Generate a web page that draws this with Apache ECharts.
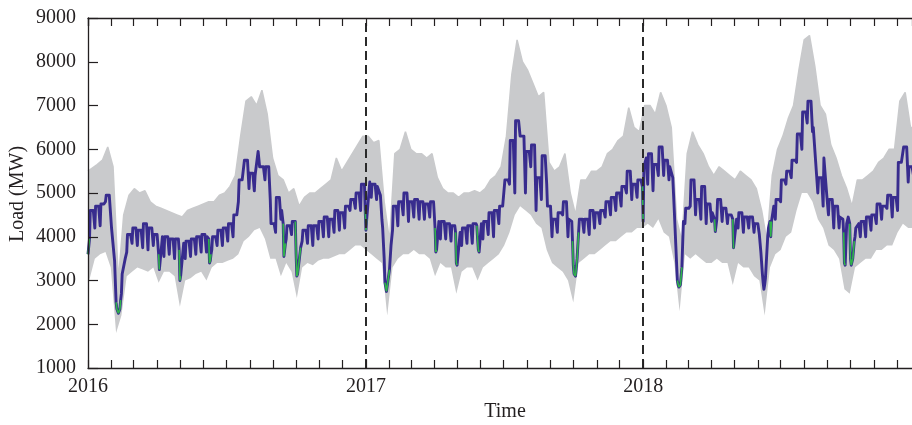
<!DOCTYPE html>
<html>
<head>
<meta charset="utf-8">
<script src="https://cdn.jsdelivr.net/npm/echarts@6/dist/echarts.min.js"></script>
<style>
html,body{margin:0;padding:0;background:#fff;}
#chart{width:912px;height:425px;}
</style>
</head>
<body>
<div id="chart"></div>
<script>
// ---- Data ----
// Weekly values, week w starts on Sunday 2016-01-03 + 7w.
// Blue line (daily average load): weekend dip (Sunday) and weekday level (Mon/Fri)
const weekLo = [
3950,4200,4250,4800,4450,2500,2700,3650,3850,3800,3750,3700,3800,3600,3550,3600,3500,3000,3500,3550,
3600,3650,3650,3700,3800,3800,3900,4000,4800,5300,5100,5050,5600,5300,4850,4100,4400,3950,4050,3100,
3900,3850,3800,3950,4000,4000,4100,4150,4200,4600,4650,4600,
4150,4900,4850,4400,2750,4150,4250,4500,4350,4450,4400,4400,4450,4200,3950,3950,3900,3400,3800,3850,
3850,3950,3950,4050,4000,4300,4700,5200,5000,6300,5000,5600,4600,4850,5200,4000,4100,4500,4000,3350,
4100,4100,4050,4200,4300,4450,4500,4600,4700,5000,4850,4900,
5150,5200,5050,5400,5400,5300,4600,2850,4300,4700,4500,4400,4300,4350,4400,4350,4300,4400,4200,4100,
4200,4100,4050,2900,4350,4400,4800,5200,5350,5700,6000,6600,6400,5000,4700,4500,4200,4200,3400,4300,
4000,4000,4000,4150,4300,4400,4650,4450,4600,5700,5250,5400];
const weekHi = [
4600,4700,4750,4950,4200,2350,3500,4050,4200,4150,4300,4200,4050,4000,4000,3950,3950,3850,3900,3950,
4000,4050,4000,4000,4150,4200,4300,4500,5300,5750,5450,5400,5600,5600,4300,4900,4600,4250,4350,3750,
4150,4250,4250,4350,4450,4400,4600,4550,4700,4850,5000,5200,
5250,5200,5150,2850,3000,4700,4800,5000,4800,4850,4800,4750,4800,4350,4350,4300,4250,4100,4200,4250,
4300,4300,4350,4550,4600,4700,5300,6200,6650,6300,5950,6100,5350,5850,4700,4400,4550,4800,4400,3300,
4400,4400,4600,4550,4600,4800,4900,5000,5150,5500,5200,5300,
5800,5900,5650,6050,5750,5600,4200,4350,4650,5300,4850,5150,4750,4550,4850,4650,4500,4400,4550,4450,
4450,4300,3850,4200,4700,4850,5300,5500,5750,6350,6850,7100,6500,5350,5800,4850,4700,4450,4450,3700,
4300,4350,4450,4500,4750,4700,4950,4900,5700,6050,5600,5550];
// Grey band (hourly load range): weekly upper and lower edge
const grayTop = [
5500,5650,5750,6050,5600,3000,4500,4950,5100,5000,5050,4800,4700,4650,4600,4550,4500,4450,4600,4650,
4700,4750,4800,4800,4950,5000,5150,5400,6300,7100,7200,7000,7350,6800,5800,5400,5300,5000,5100,4700,
4900,5000,5000,5100,5200,5300,5800,5500,5700,5900,6100,6300,
6300,6150,6200,4800,3900,5900,6000,6400,6000,5900,5900,5800,5900,5350,5100,5000,5000,4900,5000,5000,
5050,5000,5100,5300,5400,5600,6300,7700,8500,8000,7800,7500,7200,7300,5700,5500,5600,5900,5000,4500,
5300,5300,5500,5500,5600,5900,6000,6200,6300,6950,6500,6400,
7000,7000,6800,7300,7000,6500,4400,3900,5900,6400,6100,5900,5600,5400,5600,5500,5400,5300,5500,5400,
5300,5100,4600,3900,5400,6000,6300,6700,7000,7800,8500,8600,7900,7000,6800,6100,5800,5400,5100,4700,
5300,5300,5400,5500,5700,5800,6000,6000,7100,7300,6500,6500];
const grayBot = [
2900,3500,3600,3650,3300,1800,2200,3100,3200,3300,3250,3200,3300,2950,3200,3200,3100,2400,3000,3050,
3150,3200,3000,3300,3400,3400,3450,3500,3600,3900,4000,4150,4200,3950,3500,3500,3100,3400,3200,2600,
3300,3400,3350,3450,3500,3500,3550,3600,3600,3700,3800,3800,
3700,3600,3500,3400,2200,3300,3500,3600,3600,3700,3600,3600,3500,3100,3400,3300,3300,2700,3200,3300,
3300,3000,3300,3400,3500,3600,3800,4100,4500,4700,4600,4500,4300,4200,3700,3400,3300,3200,3000,2500,
3400,3500,3600,3600,3700,3800,3900,3900,4000,4100,4100,4200,
4200,4300,4200,4400,4100,4000,3400,2300,3600,3500,3600,3500,3400,3400,3500,3400,3400,2900,3400,3300,
3300,3100,3000,2200,3300,3600,3700,4000,4100,4600,5000,5000,4800,4400,4200,3800,3700,3500,2800,2700,
3300,3400,3500,3500,3700,3700,3800,3800,4100,4300,4200,4200];
// Individual days read separately (holidays and fast transitions) for the blue line
const dayDates = [
'2016-01-01','2016-01-03','2016-02-05','2016-02-07','2016-02-08','2016-02-10','2016-02-12','2016-02-13','2016-02-15',
'2016-04-04','2016-04-30','2016-05-01','2016-05-02','2016-06-08','2016-06-09','2016-06-10','2016-06-11','2016-08-12',
'2016-09-14','2016-09-15','2016-09-16','2016-09-17','2016-10-01','2016-10-02','2016-10-03','2016-10-05','2016-10-07',
'2016-12-31','2017-01-01','2017-01-02','2017-01-20','2017-01-23','2017-01-25','2017-01-26','2017-01-28','2017-01-30',
'2017-02-01','2017-02-03','2017-02-05','2017-04-02','2017-04-03','2017-04-04','2017-04-29','2017-04-30','2017-05-01',
'2017-05-27','2017-05-28','2017-05-29','2017-05-30','2017-09-29','2017-09-30','2017-10-01','2017-10-02','2017-10-04',
'2017-10-06','2017-10-08','2017-12-31','2018-01-01','2018-01-02','2018-02-06','2018-02-09','2018-02-11','2018-02-12',
'2018-02-13','2018-02-15','2018-02-16','2018-02-17','2018-02-19','2018-02-21','2018-02-23','2018-04-05','2018-04-06',
'2018-04-29','2018-04-30','2018-05-01','2018-06-03','2018-06-05','2018-06-07','2018-06-08','2018-06-09','2018-06-11',
'2018-06-14','2018-06-17','2018-06-18','2018-06-19','2018-08-17','2018-08-31','2018-09-21','2018-09-22','2018-09-23',
'2018-09-24','2018-09-26','2018-09-28','2018-09-30','2018-10-01','2018-10-02','2018-10-04','2018-10-06','2018-10-08'];
const dayVals = [
3600,3950,3450,2500,2350,2250,2350,2550,3150,
3250,3700,3000,3100,3950,3400,3450,3600,5950,
4300,3550,3700,3850,3600,3100,3150,3450,3750,
4600,4150,4400,4950,4200,3500,2950,2750,2750,
3250,3800,4150,4200,3650,3700,4100,3400,3350,
4250,3950,3700,3650,4350,3900,3350,3150,3100,
3500,4100,5150,4350,5600,5600,5350,4600,4200,
3800,3000,2900,2850,2900,3300,4350,4400,4120,
4400,3750,3750,4050,3650,3150,2950,2800,3050,
4000,4350,4000,4350,5500,4900,4400,4100,3400,
3350,4300,4450,4300,3500,3350,3500,3900,4200];
// Holiday periods drawn in green (each group is a run of dates)
const holidayGroups = [
['2016-01-01','2016-01-03'],
['2016-02-07','2016-02-08','2016-02-10','2016-02-12','2016-02-13'],
['2016-04-03','2016-04-04'],
['2016-04-30','2016-05-01','2016-05-02'],
['2016-06-08','2016-06-09','2016-06-10','2016-06-11'],
['2016-09-14','2016-09-15','2016-09-16','2016-09-17'],
['2016-09-30','2016-10-01','2016-10-02','2016-10-03','2016-10-05','2016-10-07'],
['2016-12-31','2017-01-01','2017-01-02'],
['2017-01-26','2017-01-28','2017-01-30','2017-02-01'],
['2017-04-02','2017-04-03','2017-04-04'],
['2017-04-29','2017-04-30','2017-05-01'],
['2017-05-27','2017-05-28','2017-05-29','2017-05-30'],
['2017-09-30','2017-10-01','2017-10-02','2017-10-04','2017-10-06','2017-10-08'],
['2017-12-31','2018-01-01'],
['2018-02-15','2018-02-17','2018-02-19','2018-02-21'],
['2018-04-05','2018-04-06'],
['2018-04-29','2018-04-30','2018-05-01'],
['2018-06-17','2018-06-18','2018-06-19'],
['2018-09-22','2018-09-23','2018-09-24'],
['2018-09-30','2018-10-01','2018-10-02','2018-10-04','2018-10-06']];
const yearMarks = ['2017-01-01','2018-01-01'];
const yearLabels = ['2016','2017','2018'];
const yTicks = [1000,2000,3000,4000,5000,6000,7000,8000,9000];

// ---- Build series ----
const DAY = 86400000;
function ts(s){const p=s.split('-').map(Number);return Date.UTC(p[0],p[1]-1,p[2]);}
const START = ts('2016-01-03');
const X_MIN = ts('2016-01-01'), X_MAX = ts('2018-12-21');

const blueMap = new Map();
weekLo.forEach((v,w)=>{
  const s = START + 7*w*DAY;
  blueMap.set(s, v);
  blueMap.set(s + DAY, weekHi[w]);
  blueMap.set(s + 5*DAY, weekHi[w]);
});
dayDates.forEach((d,i)=>blueMap.set(ts(d), dayVals[i]));
const blueData = [...blueMap.entries()].sort((a,b)=>a[0]-b[0]);

const grayTopData = grayTop.map((v,w)=>[w===0?X_MIN:START+(7*w+3)*DAY, v]);
const grayBotData = grayBot.map((v,w)=>[w===0?X_MIN:START+7*w*DAY, v]);

const FONT = 'Liberation Serif';
const INK = '#231f20';
const GRAY = '#c9cacc';

const greenSeries = holidayGroups.map(g=>({
  type:'line', xAxisIndex:0, yAxisIndex:0, z:4, silent:true, symbol:'none',
  lineStyle:{color:'#2fb34a', width:1.6},
  data: g.map(d=>[ts(d), blueMap.get(ts(d))])
}));

function yearLabel(v){
  const d = new Date(v);
  if (d.getUTCMonth()===0 && d.getUTCDate()===1) {
    const s = String(d.getUTCFullYear());
    return yearLabels.indexOf(s) >= 0 ? s : '';
  }
  return '';
}

function xAxisDef(pos, labels){
  return {
    type:'time', position:pos, min:X_MIN, max:X_MAX, zlevel:1, z:10,
    minInterval:28*DAY, maxInterval:31*DAY, splitNumber:40,
    axisLine:{show:true, onZero:false, lineStyle:{color:INK, width:1.3}},
    axisTick:{show:true, inside:true, length:8, lineStyle:{color:INK, width:1.2}},
    minorTick:{show:false},
    axisLabel:{show:labels, interval:0, hideOverlap:false, showMinLabel:true, showMaxLabel:false,
      margin:9, color:INK, fontFamily:FONT, fontSize:20, fontWeight:'normal',
      rich:{}, formatter:(v)=>yearLabel(v)},
    splitLine:{show:false}
  };
}

const chart = echarts.init(document.getElementById('chart'), null, {renderer:'canvas'});
chart.setOption({
  animation:false,
  backgroundColor:'#fff',
  grid:{left:88, right:0, top:18, bottom:57, outerBoundsMode:'none'},
  xAxis:[xAxisDef('bottom', true), xAxisDef('top', false)],
  yAxis:{
    type:'value', min:yTicks[0], max:yTicks[yTicks.length-1], interval:1000, zlevel:1, z:10,
    axisLine:{show:true, lineStyle:{color:INK, width:1.3}},
    axisTick:{show:true, inside:true, length:10, lineStyle:{color:INK, width:1.2}},
    axisLabel:{margin:12, color:INK, fontFamily:FONT, fontSize:20, formatter:(v)=>String(v)},
    splitLine:{show:false}
  },
  graphic:[
    {type:'text', x:18, y:194, rotation:Math.PI/2, z:20,
     style:{text:'Load (MW)', fontFamily:FONT, fontSize:20, fill:INK, align:'center', verticalAlign:'middle'}},
    {type:'text', x:505, y:412, z:20,
     style:{text:'Time', fontFamily:FONT, fontSize:20, fill:INK, align:'center', verticalAlign:'middle'}}
  ],
  series:[
    {type:'line', name:'range-top', z:1, silent:true, symbol:'none',
     lineStyle:{color:GRAY, width:1.5}, areaStyle:{color:GRAY, opacity:1, origin:'start'},
     data:grayTopData},
    {type:'line', name:'range-bottom', z:1, silent:true, symbol:'none',
     lineStyle:{width:0, opacity:0}, areaStyle:{color:'#ffffff', opacity:1, origin:'start'},
     data:grayBotData},
    {type:'line', name:'daily', z:3, silent:true, symbol:'none',
     lineStyle:{color:'#382c8e', width:2.9, join:'round'},
     data:blueData,
     markLine:{silent:true, symbol:['none','none'], label:{show:false}, z:6,
       lineStyle:{color:'#2a2a2a', width:2, type:[9,5]},
       data:yearMarks.map(d=>({xAxis:ts(d)}))}
    }
  ].concat(greenSeries)
});
</script>
</body>
</html>
